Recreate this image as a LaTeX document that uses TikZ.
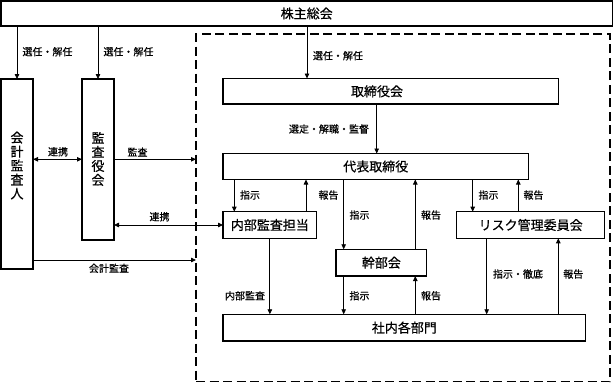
\documentclass[tikz,border=0pt]{standalone}
\usepackage{fontspec}
\setmainfont{Noto Sans CJK JP}[FakeBold=0.6]
\usetikzlibrary{arrows.meta}
\begin{document}
\begin{tikzpicture}[x=1pt,y=-1pt,
  box/.style={draw, line width=1.1pt, inner sep=0pt, outer sep=0pt, anchor=north west, font=\fontsize{13}{14}\selectfont},
  big/.style={font=\fontsize{13}{14}\selectfont, inner sep=0pt},
  vtext/.style={font=\fontsize{13}{14}\selectfont, inner sep=0pt, align=center},
  lbl/.style={font=\fontsize{10}{12}\selectfont, inner sep=0pt},
  arr/.style={line width=0.8pt, -{Triangle[length=5pt,width=4.5pt]}},
  darr/.style={line width=0.8pt, {Triangle[length=5pt,width=4.5pt]}-{Triangle[length=5pt,width=4.5pt]}},
  dbox/.style={draw, line width=1.1pt, dash pattern=on 9pt off 4.5pt, inner sep=0pt, outer sep=0pt, anchor=north west}]
\useasboundingbox (0,0) rectangle (614,383);

% boxes
\node[box, minimum width=611.5pt, minimum height=25pt] (kabu) at (1,1) {株主総会};
\node[box, minimum width=32pt, minimum height=190pt] (kaikei) at (1,79) {};
\node[box, minimum width=32pt, minimum height=161pt] (kansa) at (82,79) {};
\node[dbox, minimum width=414pt, minimum height=347.5pt] (dash) at (196,34) {};
\node[box, minimum width=335.5pt, minimum height=25.5pt] (tori) at (223,78.5) {};
\node[box, minimum width=305.5pt, minimum height=26pt] (daihyo) at (223,153.5) {代表取締役};
\node[box, minimum width=93.7pt, minimum height=26.6pt] (naibu) at (223,211.7) {内部監査担当};
\node[box, minimum width=90.7pt, minimum height=26.7pt] (kanbu) at (336,249.3) {幹部会};
\node[box, minimum width=148pt, minimum height=26.6pt] (risk) at (456.7,211.7) {リスク管理委員会};
\node[box, minimum width=362.7pt, minimum height=26.7pt] (shanai) at (223,314.3) {社内各部門};

% box texts placed off centre
\node[big] (toritxt) at (377,91.3) {取締役会};
\node[vtext] (kaikeitxt) at (17,165.5) {会\\計\\監\\査\\人};
\node[vtext] (kansatxt) at (98,159) {監\\査\\役\\会};

% column / row coordinates
\coordinate (c307) at (307,0);
\coordinate (c377) at (376.7,0);
\coordinate (c234) at (234.3,0);
\coordinate (c306) at (306,0);
\coordinate (c344) at (343.7,0);
\coordinate (c415) at (415.3,0);
\coordinate (c473) at (472.7,0);
\coordinate (c518) at (518.3,0);
\coordinate (c487) at (486.7,0);
\coordinate (c558) at (558.3,0);
\coordinate (r159) at (0,159.3);
\coordinate (r260) at (0,260);

% connectors from shareholders
\draw[arr] (kabu.south -| kaikei.north) -- (kaikei.north);
\draw[arr] (kabu.south -| kansa.north) -- (kansa.north);
\draw[arr] (kabu.south -| c307) -- (tori.north -| c307);
\draw[arr] (tori.south -| c377) -- (daihyo.north -| c377);

% left side
\draw[darr] (kaikei.east |- r159) -- (kansa.west |- r159);
\draw[arr] (kansa.east |- r159) -- (dash.west |- r159);
\draw[darr] (kansa.east |- naibu.west) -- (naibu.west);
\draw[arr] (kaikei.east |- r260) -- (dash.west |- r260);

% inside
\draw[arr] (daihyo.south -| c234) -- (naibu.north -| c234);
\draw[arr] (naibu.north -| c306) -- (daihyo.south -| c306);
\draw[arr] (daihyo.south -| c344) -- (kanbu.north -| c344);
\draw[arr] (kanbu.north -| c415) -- (daihyo.south -| c415);
\draw[arr] (daihyo.south -| c473) -- (risk.north -| c473);
\draw[arr] (risk.north -| c518) -- (daihyo.south -| c518);
\draw[arr] (naibu.south) -- (shanai.north -| naibu.south);
\draw[arr] (kanbu.south -| c344) -- (shanai.north -| c344);
\draw[arr] (shanai.north -| c415) -- (kanbu.south -| c415);
\draw[arr] (risk.south -| c487) -- (shanai.north -| c487);
\draw[arr] (shanai.north -| c558) -- (risk.south -| c558);

% labels
\node[lbl] (l1) at (47.5,51.7) {選任・解任};
\node[lbl] (l2) at (128.5,51.7) {選任・解任};
\node[lbl] (l3) at (338,55.7) {選任・解任};
\node[lbl] (l4) at (329,129) {選定・解職・監督};
\node[lbl] (l5) at (58,151.7) {連携};
\node[lbl] (l6) at (137.5,152) {監査};
\node[lbl] (l7) at (159.5,216.7) {連携};
\node[lbl] (l8) at (109,268.3) {会計監査};
\node[lbl] (l9) at (250,195) {指示};
\node[lbl] (l10) at (328.5,195) {報告};
\node[lbl] (l11) at (359.5,215) {指示};
\node[lbl] (l12) at (431,215) {報告};
\node[lbl] (l13) at (488.5,195) {指示};
\node[lbl] (l14) at (533.5,195) {報告};
\node[lbl] (l15) at (245,295.7) {内部監査};
\node[lbl] (l16) at (359.5,295.7) {指示};
\node[lbl] (l17) at (431,295.7) {報告};
\node[lbl] (l18) at (518,274) {指示・徹底};
\node[lbl] (l19) at (573.3,274) {報告};
\end{tikzpicture}
\end{document}
